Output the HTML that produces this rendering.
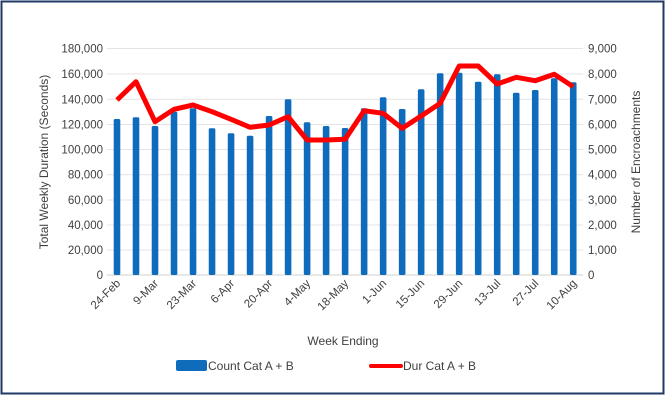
<!DOCTYPE html>
<html><head><meta charset="utf-8"><style>
body{margin:0;background:#fff;}
svg{display:block;font-family:"Liberation Sans",sans-serif;}
</style></head><body>
<svg width="666" height="407" viewBox="0 0 666 407">
<rect x="0" y="0" width="666" height="407" fill="#fff"/>
<rect x="1.5" y="1.5" width="662" height="392" fill="#fff" stroke="#1f3864" stroke-width="2"/>
<g stroke="#e4e4e4" stroke-width="1">
<line x1="107" x2="583" y1="48.5" y2="48.5"/><line x1="107" x2="583" y1="74" y2="74"/>
<line x1="107" x2="583" y1="99.3" y2="99.3"/><line x1="107" x2="583" y1="124.5" y2="124.5"/>
<line x1="107" x2="583" y1="149.5" y2="149.5"/><line x1="107" x2="583" y1="174.7" y2="174.7"/>
<line x1="107" x2="583" y1="200" y2="200"/><line x1="107" x2="583" y1="225" y2="225"/>
<line x1="107" x2="583" y1="250" y2="250"/>
</g>
<line x1="107" x2="583" y1="275" y2="275" stroke="#d0d0d0"/>
<g fill="#0f6cbd" id="bars"></g>
<polyline id="ln" fill="none" stroke="#ff0000" stroke-width="5" stroke-linejoin="round"/>
<g font-size="11.5" fill="#404040" text-anchor="end">
<text x="103" y="52.5">180,000</text><text x="103" y="78">160,000</text><text x="103" y="103.3">140,000</text>
<text x="103" y="128.5">120,000</text><text x="103" y="153.5">100,000</text><text x="103" y="178.7">80,000</text>
<text x="103" y="204">60,000</text><text x="103" y="229">40,000</text><text x="103" y="254">20,000</text><text x="103" y="279">0</text>
</g>
<g font-size="11.5" fill="#404040" text-anchor="start">
<text x="588" y="52.5">9,000</text><text x="588" y="78">8,000</text><text x="588" y="103.3">7,000</text>
<text x="588" y="128.5">6,000</text><text x="588" y="153.5">5,000</text><text x="588" y="178.7">4,000</text>
<text x="588" y="204">3,000</text><text x="588" y="229">2,000</text><text x="588" y="254">1,000</text><text x="588" y="279">0</text>
</g>
<text transform="translate(48,162) rotate(-90)" font-size="12" fill="#404040" text-anchor="middle">Total Weekly Duration (Seconds)</text>
<text transform="translate(640,162) rotate(-90)" font-size="12" fill="#404040" text-anchor="middle">Number of Encroachments</text>
<g id="xl" font-size="11.5" fill="#404040" text-anchor="end"></g>
<text x="343" y="345" font-size="12" fill="#404040" text-anchor="middle">Week Ending</text>
<rect x="176" y="360" width="31" height="11" rx="2" fill="#0f6cbd"/>
<text x="208" y="370" font-size="12" fill="#404040">Count Cat A + B</text>
<line x1="371" x2="401" y1="366" y2="366" stroke="#ff0000" stroke-width="4" stroke-linecap="round"/>
<text x="403" y="370" font-size="12" fill="#404040">Dur Cat A + B</text>
</svg>
<script>
var tops=[119,117.3,126,111.7,108.3,128.3,133.3,135.7,116,99.3,122.3,126,128,108.3,97.3,109,89.3,73.3,72.7,81.7,74.3,92.7,90,78.3,82.3];
var ly=[100,81.7,121.7,109.3,105,111.7,119.3,127.3,125,116.7,140,140,139.3,110.7,113.3,128.3,116,103.3,66,66,84,77.3,80.7,74.3,86.7];
var labs=["24-Feb","9-Mar","23-Mar","6-Apr","20-Apr","4-May","18-May","1-Jun","15-Jun","29-Jun","13-Jul","27-Jul","10-Aug"];
var ns="http://www.w3.org/2000/svg",b=document.getElementById("bars"),pts=[];
for(var i=0;i<25;i++){var x=117+i*19.01;var r=document.createElementNS(ns,"rect");
r.setAttribute("x",x-3.3);r.setAttribute("y",tops[i]);r.setAttribute("width",6.6);r.setAttribute("height",275-tops[i]);r.setAttribute("rx",1.5);b.appendChild(r);
pts.push(x+","+ly[i]);}
document.getElementById("ln").setAttribute("points",pts.join(" "));
var xl=document.getElementById("xl");
for(var j=0;j<13;j++){var x=117+j*2*19.01+4;var t=document.createElementNS(ns,"text");
t.setAttribute("transform","translate("+x+",284) rotate(-45)");t.textContent=labs[j];xl.appendChild(t);}
</script>
</body></html>
